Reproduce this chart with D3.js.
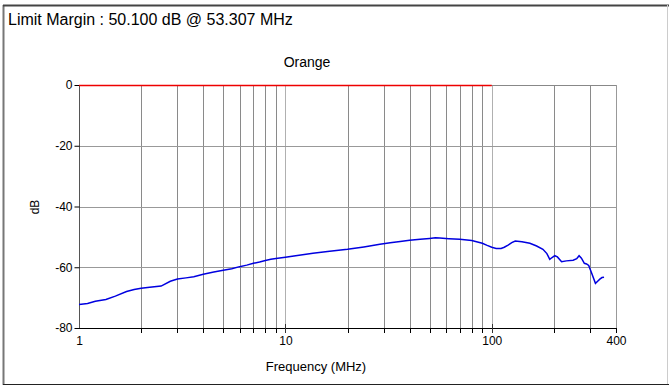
<!DOCTYPE html>
<html><head><meta charset="utf-8">
<script src="https://cdn.jsdelivr.net/npm/d3@7"></script>
<style>body{margin:0;background:#fff}svg{display:block;font-family:"Liberation Sans",Arial,sans-serif}</style>
</head><body>
<svg id="c" width="669" height="386"></svg>
<script>
const freqs = [1,1.05,1.1,1.2,1.35,1.5,1.7,1.85,2,2.2,2.5,2.77,3,3.3,3.6,4,4.5,5,5.5,6,6.5,7,7.5,8,8.5,9,10,11,13.6,16,20,24,28.7,32.2,36,40,45,50,53.3,56,62,70,80,90,95,100,105,111,115,120,125,130,140,153,165,177,185,191,196,202,208,218,230,248,258,265,272,281,288,295,305,318,326,334,342,350];
const levels = [-72.3,-72.1,-71.9,-71.2,-70.6,-69.5,-68.0,-67.3,-66.9,-66.6,-66.2,-64.6,-63.9,-63.5,-63.1,-62.3,-61.6,-61.0,-60.5,-59.8,-59.3,-58.7,-58.3,-57.8,-57.4,-57.1,-56.7,-56.3,-55.4,-54.8,-54.1,-53.3,-52.4,-51.9,-51.5,-51.1,-50.8,-50.5,-50.3,-50.4,-50.6,-50.8,-51.2,-52.1,-52.8,-53.4,-53.8,-53.8,-53.4,-52.7,-51.9,-51.4,-51.6,-52.1,-53.0,-54.1,-55.5,-57.4,-56.8,-56.2,-56.6,-58.2,-57.9,-57.7,-57.2,-56.2,-57.0,-58.7,-58.9,-59.4,-62.0,-65.3,-64.6,-63.9,-63.4,-63.3];
const limitFreqs = [1,100];
const limitLevels = [0,0];
const yTicks = [0,-20,-40,-60,-80];
const xMajor = [1,10,100,400];
const xMinor = [2,3,4,5,6,7,8,9,20,30,40,50,60,70,80,90,200,300];

const svg = d3.select("#c");
const L=79,R=616,T=85,B=328;
const x = d3.scaleLog().domain([1,400]).range([L,R]);
const y = d3.scaleLinear().domain([-80,0]).range([B,T]);

// outer frame
svg.append("line").attr("x1",3.5).attr("x2",3.5).attr("y1",5).attr("y2",385).attr("stroke","#777").attr("stroke-width",2);
svg.append("line").attr("x1",3).attr("x2",669).attr("y1",5.5).attr("y2",5.5).attr("stroke","#444").attr("stroke-width",2);
svg.append("line").attr("x1",667.5).attr("x2",667.5).attr("y1",5).attr("y2",385).attr("stroke","#ccc");
svg.append("line").attr("x1",3).attr("x2",669).attr("y1",384.5).attr("y2",384.5).attr("stroke","#222");

svg.append("text").attr("x",8).attr("y",25).attr("font-size",16).text("Limit Margin : 50.100 dB @ 53.307 MHz");
svg.append("text").attr("x",307).attr("y",67).attr("font-size",14).attr("text-anchor","middle").text("Orange");

// grid
const g = svg.append("g");
g.selectAll(".vg").data(xMinor).join("line").attr("x1",d=>Math.round(x(d))+0.5).attr("x2",d=>Math.round(x(d))+0.5).attr("y1",T).attr("y2",B).attr("stroke","#8a8a8a");
g.selectAll(".vg2").data([10,100]).join("line").attr("x1",d=>Math.round(x(d))+0.5).attr("x2",d=>Math.round(x(d))+0.5).attr("y1",T).attr("y2",B).attr("stroke","#b0b0b0");
g.selectAll(".hg").data([-20,-40,-60]).join("line").attr("y1",d=>Math.round(y(d))+0.5).attr("y2",d=>Math.round(y(d))+0.5).attr("x1",L).attr("x2",R).attr("stroke","#999");
g.append("line").attr("x1",L).attr("x2",R).attr("y1",T+0.5).attr("y2",T+0.5).attr("stroke","#888");
g.append("line").attr("x1",R+0.5).attr("x2",R+0.5).attr("y1",T).attr("y2",B).attr("stroke","#999");

// y axis
const ya = svg.append("g").attr("transform",`translate(${L+0.5},0)`).call(d3.axisLeft(y).tickValues(yTicks).tickSize(5).tickPadding(2).tickFormat(d=>String(d)));
ya.select(".domain").attr("stroke","#555").attr("d",`M0,${T}V${B}`);
ya.selectAll("text").attr("font-size",12).attr("font-family","Liberation Sans, Arial, sans-serif").attr("fill","#000");
ya.selectAll("line").attr("stroke","#000");

// x axis
const xa = svg.append("g").attr("transform",`translate(0,${B+0.5})`).call(d3.axisBottom(x).tickValues(xMajor).tickSize(0).tickPadding(8).tickFormat(d=>String(d)));
xa.select(".domain").attr("stroke","#000").attr("d",`M${L},0H${R}`);
xa.selectAll("text").attr("font-size",12).attr("font-family","Liberation Sans, Arial, sans-serif").attr("fill","#000");
svg.append("g").selectAll("line").data(xMinor.concat([400])).join("line").attr("x1",d=>Math.round(x(d))+0.5).attr("x2",d=>Math.round(x(d))+0.5).attr("y1",B).attr("y2",B+5).attr("stroke","#000");
svg.append("g").selectAll("line").data([10,100]).join("line").attr("x1",d=>Math.round(x(d))+0.5).attr("x2",d=>Math.round(x(d))+0.5).attr("y1",B-4).attr("y2",B+5).attr("stroke","#333");

svg.append("text").attr("transform",`translate(39,207) rotate(-90)`).attr("font-size",12).attr("text-anchor","middle").text("dB");
svg.append("text").attr("x",316).attr("y",371).attr("font-size",13).attr("text-anchor","middle").text("Frequency (MHz)");

// limit line
svg.append("path").datum(limitFreqs.map((f,i)=>[f,limitLevels[i]])).attr("d",d3.line().x(d=>x(d[0])).y(d=>y(d[1])+0.5)).attr("stroke","#e00").attr("stroke-width",1.5).attr("fill","none");
// data
svg.append("path").datum(freqs.map((f,i)=>[f,levels[i]])).attr("d",d3.line().x(d=>x(d[0])).y(d=>y(d[1]))).attr("stroke","#0000e0").attr("stroke-width",1.5).attr("fill","none");
</script>
</body></html>
